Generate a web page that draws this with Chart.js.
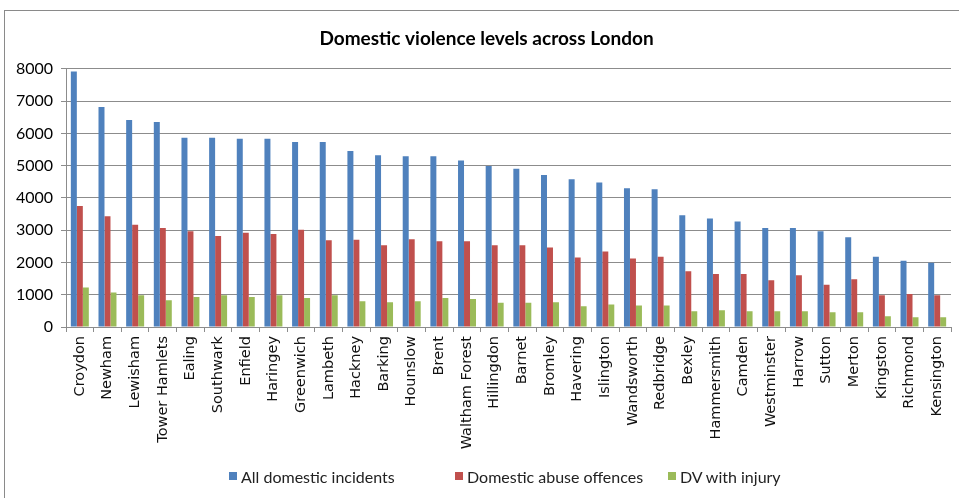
<!DOCTYPE html>
<html>
<head>
<meta charset="utf-8">
<script src="https://cdn.jsdelivr.net/npm/chart.js@4.4.1/dist/chart.umd.min.js"></script>
<style>
  body { margin: 0; background: #fff; }
  #wrap { position: relative; width: 959px; height: 498px; overflow: hidden; }
  #frame { position: absolute; left: 4px; top: 10px; width: 1200px; height: 1200px;
           border-left: 1px solid #8a8a8a; border-top: 1px solid #8a8a8a; }
  #myChart { position: absolute; left: 0; top: 0; }
  #legend { position: absolute; left: 0; top: 465px; width: 959px; height: 22px;
            font-family: "Liberation Sans Narrow", Lato, sans-serif; font-size: 16px; color: #222; }
  #legend .item { position: absolute; top: 0; display: flex; align-items: center; white-space: nowrap; height: 22px; }
  #legend .box { width: 8px; height: 8px; margin-right: 4px; }
</style>
</head>
<body>
<div id="wrap">
  <div id="frame"></div>
  <canvas id="myChart" width="959" height="498"></canvas>
  <div id="legend"></div>
</div>
<script>
// Boroughs, sorted by total incidents
var boroughs = ['Croydon', 'Newham', 'Lewisham', 'Tower Hamlets', 'Ealing', 'Southwark', 'Enfield', 'Haringey',
    'Greenwich', 'Lambeth', 'Hackney', 'Barking', 'Hounslow', 'Brent', 'Waltham Forest', 'Hillingdon',
    'Barnet', 'Bromley', 'Havering', 'Islington', 'Wandsworth', 'Redbridge', 'Bexley', 'Hammersmith',
    'Camden', 'Westminster', 'Harrow', 'Sutton', 'Merton', 'Kingston', 'Richmond', 'Kensington'];

var allIncidents = [7920, 6820, 6410, 6350, 5860, 5860, 5830, 5830, 5730, 5730, 5450, 5320, 5290, 5290, 5160, 4990,
    4900, 4710, 4580, 4480, 4300, 4270, 3460, 3360, 3270, 3070, 3070, 2970, 2780, 2180, 2050, 1990];

var abuseOffences = [3750, 3430, 3170, 3070, 2970, 2820, 2920, 2880, 3010, 2690, 2700, 2530, 2720, 2660, 2660, 2530,
    2530, 2460, 2150, 2340, 2120, 2180, 1730, 1640, 1640, 1450, 1600, 1310, 1480, 980, 1020, 980];

var withInjury = [1220, 1070, 980, 830, 930, 980, 930, 980, 900, 980, 800, 770, 800, 900, 870, 750,
    750, 770, 640, 700, 670, 670, 490, 520, 490, 490, 490, 460, 460, 330, 300, 300];

var seriesNames = ['All domestic incidents', 'Domestic abuse offences', 'DV with injury'];
var seriesColors = ['#4f81bd', '#c0504d', '#9bbb59'];

var gridColor = '#8c8c8c';

// the title sits a little right of the canvas centre
var titleShift = {
    id: 'titleShift',
    afterLayout: function (chart) {
        if (chart.titleBlock) {
            chart.titleBlock.left += 6;
            chart.titleBlock.right += 6;
        }
    }
};

var ctx = document.getElementById('myChart').getContext('2d');

var myChart = new Chart(ctx, {
    type: 'bar',
    data: {
        labels: boroughs,
        datasets: [allIncidents, abuseOffences, withInjury].map(function (values, i) {
            return {
                label: seriesNames[i],
                data: values,
                backgroundColor: seriesColors[i],
                borderWidth: 0,
                categoryPercentage: 0.65,
                barPercentage: 1.0
            };
        })
    },
    plugins: [titleShift],
    options: {
        responsive: false,
        animation: false,
        layout: {
            padding: { left: 10, right: 8, top: 0, bottom: 0 }
        },
        plugins: {
            legend: { display: false }, // drawn as html below the chart
            tooltip: { enabled: false },
            title: {
                display: true,
                text: 'Domestic violence levels across London',
                color: '#000',
                font: { family: 'Lato', size: 19, weight: 'bold' },
                padding: { top: 27, bottom: 19 }
            }
        },
        scales: {
            x: {
                grid: {
                    display: true,
                    drawOnChartArea: false,
                    tickLength: 5,
                    color: gridColor
                },
                border: { color: gridColor },
                ticks: {
                    autoSkip: false,
                    minRotation: 90,
                    maxRotation: 90,
                    padding: 4,
                    color: '#111',
                    font: { family: 'DejaVu Sans', size: 14.5 }
                },
                afterFit: function (scale) { scale.height = 171; }
            },
            y: {
                min: 0,
                max: 8000,
                grid: { color: gridColor, tickLength: 5 },
                border: { color: gridColor },
                ticks: {
                    stepSize: 1000,
                    padding: 8,
                    color: '#000',
                    font: { family: 'Lato', size: 16 },
                    callback: function (value) { return String(value); }
                },
                afterFit: function (scale) { scale.width = 56; }
            }
        }
    }
});

// html legend built from the datasets
var legendEl = document.getElementById('legend');
var legendLeft = [229, 455, 668];
myChart.data.datasets.forEach(function (ds, i) {
    var item = document.createElement('div');
    item.className = 'item';
    item.style.left = legendLeft[i] + 'px';
    var box = document.createElement('span');
    box.className = 'box';
    box.style.background = ds.backgroundColor;
    item.appendChild(box);
    item.appendChild(document.createTextNode(ds.label));
    legendEl.appendChild(item);
});
</script>
</body>
</html>
